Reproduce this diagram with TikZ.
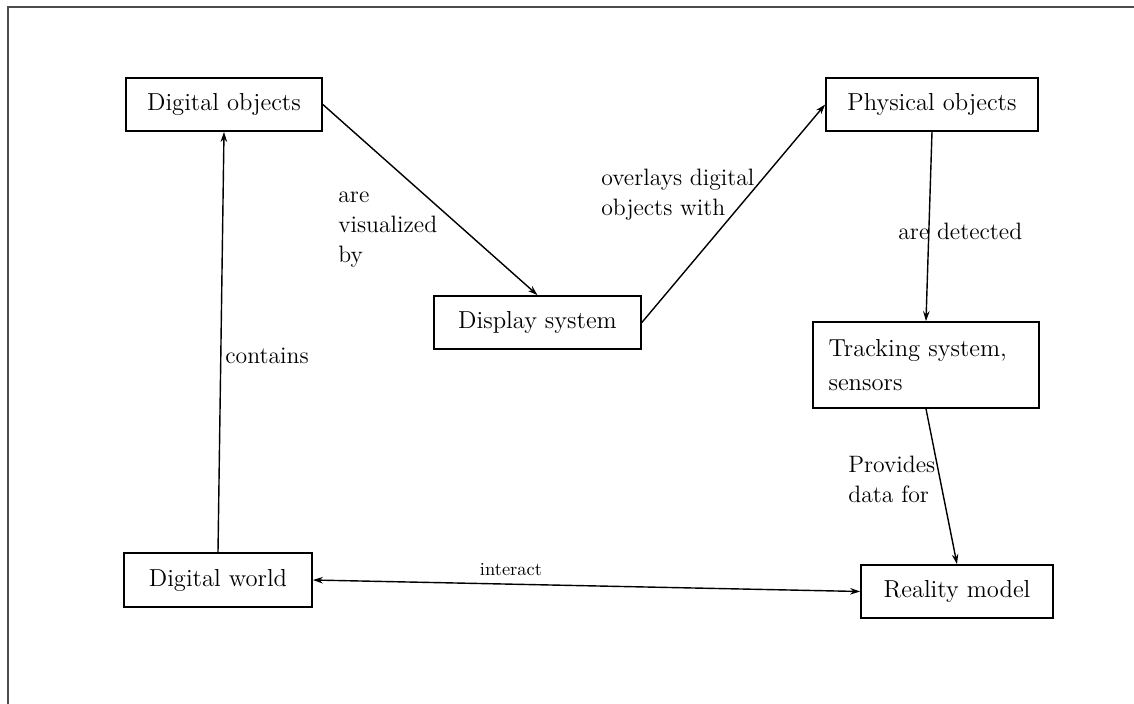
\documentclass[tikz,border=0pt]{standalone}
\usepackage{amsmath}
\usepackage{tikz}
\usetikzlibrary{arrows.meta}

\begin{document}
\begin{tikzpicture}[x=0.02cm, y=-0.02cm, >={Stealth[length=2mm,width=1.3mm]}, scale=1.0,
  box/.style={draw, line width=1pt, inner sep=0pt, font=\fontsize{14}{19}\selectfont},
  note/.style={align=left, anchor=base west, inner sep=0pt, font=\fontsize{13.5}{17}\selectfont}]

\useasboundingbox (0,0) rectangle (1134,704);

% Moldura.

\draw [line width=0.6pt, black!70] (1134,7) -- (8,7) -- (8,704);

% Definição dos blocos.

\node [box, minimum width=3.92cm, minimum height=1.06cm] (dobj) at (224,104.5) {Digital objects};
\node [box, minimum width=4.24cm, minimum height=1.06cm] (pobj) at (932,104.5) {Physical objects};
\node [box, minimum width=4.14cm, minimum height=1.06cm] (disp) at (537.5,322.5) {Display system};
\node [box, minimum width=4.52cm, minimum height=1.72cm, text width=3.9cm, align=left] (track) at (926,365) {Tracking system,\\sensors};
\node [box, minimum width=3.84cm, minimum height=1.06cm] (real) at (957,591.5) {Reality model};
\node [box, minimum width=3.76cm, minimum height=1.08cm] (dworld) at (218,580) {Digital world};

% Definição das setas.

\draw [->, line width=0.8pt] (dworld.north) -- (dobj.south);
\draw [->, line width=0.8pt] (dobj.east) -- (disp.north);
\draw [->, line width=0.8pt] (disp.east) -- (pobj.west);
\draw [->, line width=0.8pt] (pobj.south) -- (track.north);
\draw [->, line width=0.8pt] (track.south) -- (real.north);
\draw [<->, line width=0.8pt] (dworld.east) -- (real.west);

% Definição dos labels (base da última linha).

\node [note] (lvis) at (338,262) {are\\visualized\\by};
\node [note] (lover) at (601,215) {overlays digital\\objects with};
\node [note] (lcont) at (225,363) {contains};
\node [note] (ldet) at (898,239) {are detected};
\node [note] (lprov) at (848,502) {Provides\\data for};
\node [note, anchor=base, font=\fontsize{10.5}{13}\selectfont] (linter) at (511,575) {interact};

\end{tikzpicture}
\end{document}
